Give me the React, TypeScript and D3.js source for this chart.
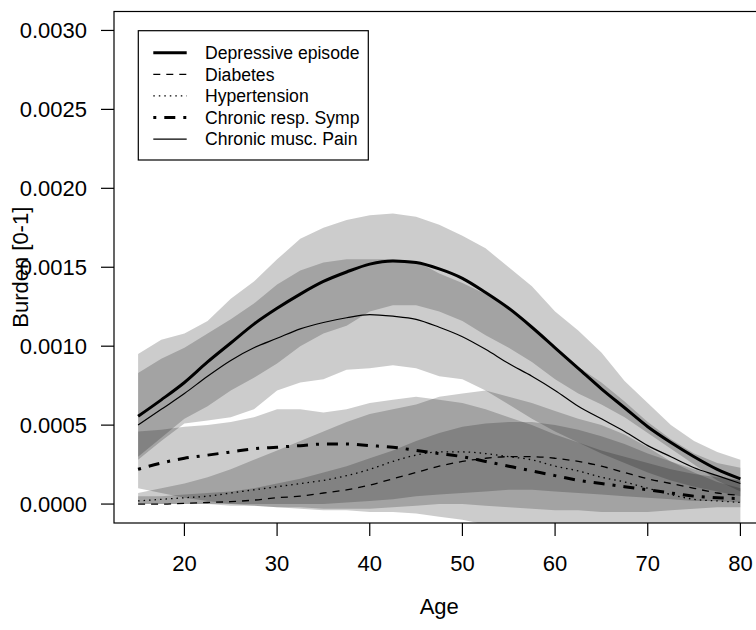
import React from 'react';
import * as d3 from 'd3';

// ---- Data ----
const ages = [15, 17.5, 20, 22.5, 25, 27.5, 30, 32.5, 35, 37.5, 40, 42.5, 45, 47.5, 50, 52.5, 55, 57.5, 60, 62.5, 65, 67.5, 70, 72.5, 75, 77.5, 80];

// Depressive episode
const depMean = [0.000556, 0.00066, 0.00077, 0.0009, 0.00102, 0.00114, 0.00124, 0.00133, 0.00141, 0.00147, 0.00152, 0.00154, 0.00153, 0.00149, 0.00143, 0.00134, 0.00124, 0.00112, 0.00099, 0.00086, 0.00073, 0.00061, 0.00049, 0.00039, 0.0003, 0.00022, 0.00016];
const depLow = [0.0003, 0.00042, 0.00054, 0.00062, 0.00072, 0.0008, 0.00089, 0.001, 0.00108, 0.00113, 0.00122, 0.00126, 0.00126, 0.00122, 0.00116, 0.00107, 0.00099, 0.0009, 0.00079, 0.0007, 0.00063, 0.00055, 0.00045, 0.00035, 0.00025, 0.00015, 0.00008];
const depHigh = [0.00095, 0.00104, 0.00108, 0.00116, 0.0013, 0.00141, 0.00155, 0.00168, 0.00175, 0.0018, 0.00183, 0.00184, 0.00182, 0.00177, 0.0017, 0.00162, 0.0015, 0.00138, 0.00122, 0.0011, 0.00096, 0.00078, 0.00064, 0.0005, 0.0004, 0.00033, 0.00028];

// Diabetes
const diabMean = [0.0, 0.0, 0.000005, 0.00001, 0.000015, 0.000025, 0.00004, 0.00005, 0.00007, 0.00009, 0.00012, 0.00016, 0.0002, 0.00024, 0.00027, 0.00029, 0.0003, 0.0003, 0.00029, 0.00027, 0.00024, 0.0002, 0.00016, 0.00013, 0.0001, 0.00007, 0.000055];
const diabLow = [0.0, 0.0, 0.0, 0.0, 0.0, 0.0, 0.0, 0.0, 0.0, 0.00001, 0.00002, 0.00003, 0.00005, 0.00006, 0.00007, 0.00008, 0.00009, 0.00009, 0.00008, 0.00007, 0.00006, 0.00005, 0.00004, 0.00003, 0.00002, 0.00002, 0.00001];
const diabHigh = [0.00005, 0.00005, 0.00006, 0.00007, 0.00008, 0.0001, 0.00013, 0.00016, 0.0002, 0.00024, 0.00029, 0.00034, 0.0004, 0.00045, 0.00049, 0.00051, 0.00052, 0.00052, 0.0005, 0.00047, 0.00043, 0.00038, 0.00032, 0.00027, 0.00022, 0.00018, 0.00015];

// Hypertension
const hypMean = [0.00002, 0.00003, 0.00004, 0.00005, 0.00007, 0.00009, 0.00011, 0.00013, 0.00015, 0.00018, 0.00022, 0.00027, 0.00031, 0.00033, 0.00033, 0.00032, 0.0003, 0.00028, 0.00024, 0.00021, 0.00017, 0.00014, 0.0001, 0.00006, 0.00003, 0.00002, 0.00001];
const hypLow = [0.0, 0.0, 0.0, 0.0, -0.00001, -0.00001, -0.00002, -0.00002, -0.00003, -0.00003, -0.00003, -0.00002, -0.00001, 0.0, 0.0, -0.00001, -0.00002, -0.00003, -0.00004, -0.00004, -0.00005, -0.00005, -0.00005, -0.00004, -0.00003, -0.00002, -0.00002];
const hypHigh = [0.00007, 0.0001, 0.00013, 0.00017, 0.00022, 0.00028, 0.00034, 0.0004, 0.00046, 0.00052, 0.00057, 0.0006, 0.00063, 0.00068, 0.0007, 0.00072, 0.00068, 0.00064, 0.00059, 0.00054, 0.0005, 0.00044, 0.00036, 0.00027, 0.0002, 0.00014, 0.0001];

// Chronic respiratory symptoms
const respMean = [0.00022, 0.00026, 0.00029, 0.00031, 0.00033, 0.00035, 0.00036, 0.00037, 0.00038, 0.00038, 0.00037, 0.00036, 0.00034, 0.00032, 0.0003, 0.00027, 0.00024, 0.00021, 0.00018, 0.00015, 0.00013, 0.00011, 0.00009, 0.00007, 0.00005, 0.00004, 0.000035];
const respLow = [0.0001, 0.00007, 0.00004, 0.00002, 0.0, -0.00001, -0.00002, -0.00003, -0.00004, -0.00004, -0.00005, -0.00005, -0.00006, -0.00008, -0.0001, -0.00013, -0.00016, -0.00019, -0.00021, -0.00023, -0.00024, -0.00025, -0.00025, -0.00025, -0.00025, -0.00025, -0.00025];
const respHigh = [0.00046, 0.00047, 0.00049, 0.0005, 0.00052, 0.00055, 0.0006, 0.0006, 0.00058, 0.0006, 0.00064, 0.00066, 0.00068, 0.00066, 0.00064, 0.0006, 0.00055, 0.0005, 0.00044, 0.00039, 0.00034, 0.0003, 0.00026, 0.00022, 0.00019, 0.00017, 0.00015];

// Chronic musculoskeletal pain
const painMean = [0.0005, 0.0006, 0.0007, 0.00081, 0.00091, 0.00099, 0.00105, 0.00111, 0.00115, 0.00118, 0.0012, 0.00119, 0.00117, 0.00112, 0.00106, 0.00098, 0.00089, 0.00081, 0.00072, 0.00062, 0.00054, 0.00046, 0.00037, 0.0003, 0.00023, 0.00018, 0.00013];
const painLow = [0.00028, 0.0004, 0.00051, 0.00053, 0.00055, 0.0006, 0.00072, 0.00077, 0.00079, 0.00085, 0.00086, 0.00088, 0.00086, 0.00081, 0.00079, 0.00072, 0.00063, 0.00054, 0.00046, 0.00039, 0.00032, 0.00026, 0.0002, 0.00015, 0.00011, 0.00008, 0.00005];
const painHigh = [0.00083, 0.00092, 0.00099, 0.00108, 0.00117, 0.00127, 0.00139, 0.00148, 0.00153, 0.00155, 0.00155, 0.00155, 0.00154, 0.00146, 0.0014, 0.00133, 0.00124, 0.00111, 0.00099, 0.00087, 0.00077, 0.00065, 0.00052, 0.00041, 0.00032, 0.00026, 0.00023];

const legendLabels = ['Depressive episode', 'Diabetes', 'Hypertension', 'Chronic resp. Symp', 'Chronic musc. Pain'];
const xTicks = [20, 30, 40, 50, 60, 70, 80];
const yTicks = [0, 0.0005, 0.001, 0.0015, 0.002, 0.0025, 0.003];
const yTickLabels = ['0.0000', '0.0005', '0.0010', '0.0015', '0.0020', '0.0025', '0.0030'];
const xTitle = 'Age';
const yTitle = 'Burden [0-1]';

// ---- Layout ----
const W = 756;
const H = 630;
const L = 114, R = 764.5, T = 11.5, B = 523;
const FONT = '"Liberation Sans", Arial, Helvetica, sans-serif';

const series = [
  { name: legendLabels[0], mean: depMean, lo: depLow, hi: depHigh, width: 3, dash: '' },
  { name: legendLabels[1], mean: diabMean, lo: diabLow, hi: diabHigh, width: 1.3, dash: '7,6' },
  { name: legendLabels[2], mean: hypMean, lo: hypLow, hi: hypHigh, width: 1.3, dash: '1.5,4' },
  { name: legendLabels[3], mean: respMean, lo: respLow, hi: respHigh, width: 3, dash: '3,8,11,8' },
  { name: legendLabels[4], mean: painMean, lo: painLow, hi: painHigh, width: 1.2, dash: '' },
];

export default function App() {
  const x = d3.scaleLinear().domain([12.4, 82.6]).range([L, R]);
  const y = d3.scaleLinear().domain([-0.00012, 0.00312]).range([B, T]);

  const area = (lo: number[], hi: number[]) =>
    d3.area<number>()
      .x((_, i) => x(ages[i]))
      .y0((_, i) => y(lo[i]))
      .y1((_, i) => y(hi[i]))
      .curve(d3.curveLinear)(ages) as string;

  const line = (vals: number[]) =>
    d3.line<number>()
      .x((_, i) => x(ages[i]))
      .y((_, i) => y(vals[i]))
      .curve(d3.curveMonotoneX)(ages) as string;

  const legX = 138.3, legY = 30.7, legW = 230, legH = 129.3;
  const rowY0 = 52.7, rowStep = 21.6;

  return (
    <div style={{ position: 'absolute', left: 0, top: 0, width: W, height: H, background: '#fff' }}>
      <svg width={W} height={H} style={{ display: 'block' }} fontFamily={FONT}>
        <defs>
          <clipPath id="plotClip">
            <rect x={L} y={T} width={R - L} height={B - T} />
          </clipPath>
        </defs>
        <rect x={0} y={0} width={W} height={H} fill="#fff" />

        <g clipPath="url(#plotClip)">
          {series.map((s, i) => (
            <path key={'band' + i} d={area(s.lo, s.hi)} fill="#000" fillOpacity={0.2} stroke="none" />
          ))}
          {series.map((s, i) => (
            <path key={'line' + i} d={line(s.mean)} fill="none" stroke="#000"
              strokeWidth={s.width} strokeDasharray={s.dash || undefined} strokeLinejoin="round" />
          ))}
        </g>

        {/* box */}
        <rect x={L} y={T} width={R - L} height={B - T} fill="none" stroke="#000" strokeWidth={1.2} />

        {/* y axis */}
        {yTicks.map((t, i) => (
          <g key={'yt' + i}>
            <line x1={L} x2={L - 13} y1={y(t)} y2={y(t)} stroke="#000" strokeWidth={1.2} />
            <text x={87} y={y(t)} dy="0.36em" textAnchor="end" fontSize={22} fill="#000">{yTickLabels[i]}</text>
          </g>
        ))}
        {/* x axis */}
        {xTicks.map((t, i) => (
          <g key={'xt' + i}>
            <line x1={x(t)} x2={x(t)} y1={B} y2={B + 13} stroke="#000" strokeWidth={1.2} />
            <text x={x(t)} y={571} textAnchor="middle" fontSize={22} fill="#000">{t}</text>
          </g>
        ))}

        <text x={x(47.5)} y={614} textAnchor="middle" fontSize={22} fill="#000">{xTitle}</text>
        <text transform={`translate(28,${(T + B) / 2}) rotate(-90)`} textAnchor="middle" fontSize={22} fill="#000">{yTitle}</text>

        {/* legend */}
        <rect x={legX} y={legY} width={legW} height={legH} fill="#fff" stroke="#000" strokeWidth={1.2} />
        {series.map((s, i) => (
          <g key={'leg' + i}>
            <line x1={153.3} x2={186.7} y1={rowY0 + i * rowStep} y2={rowY0 + i * rowStep}
              stroke="#000" strokeWidth={s.width} strokeDasharray={s.dash || undefined} />
            <text x={205} y={rowY0 + i * rowStep} dy="0.36em" fontSize={17.6} fill="#000">{s.name}</text>
          </g>
        ))}
      </svg>
    </div>
  );
}
